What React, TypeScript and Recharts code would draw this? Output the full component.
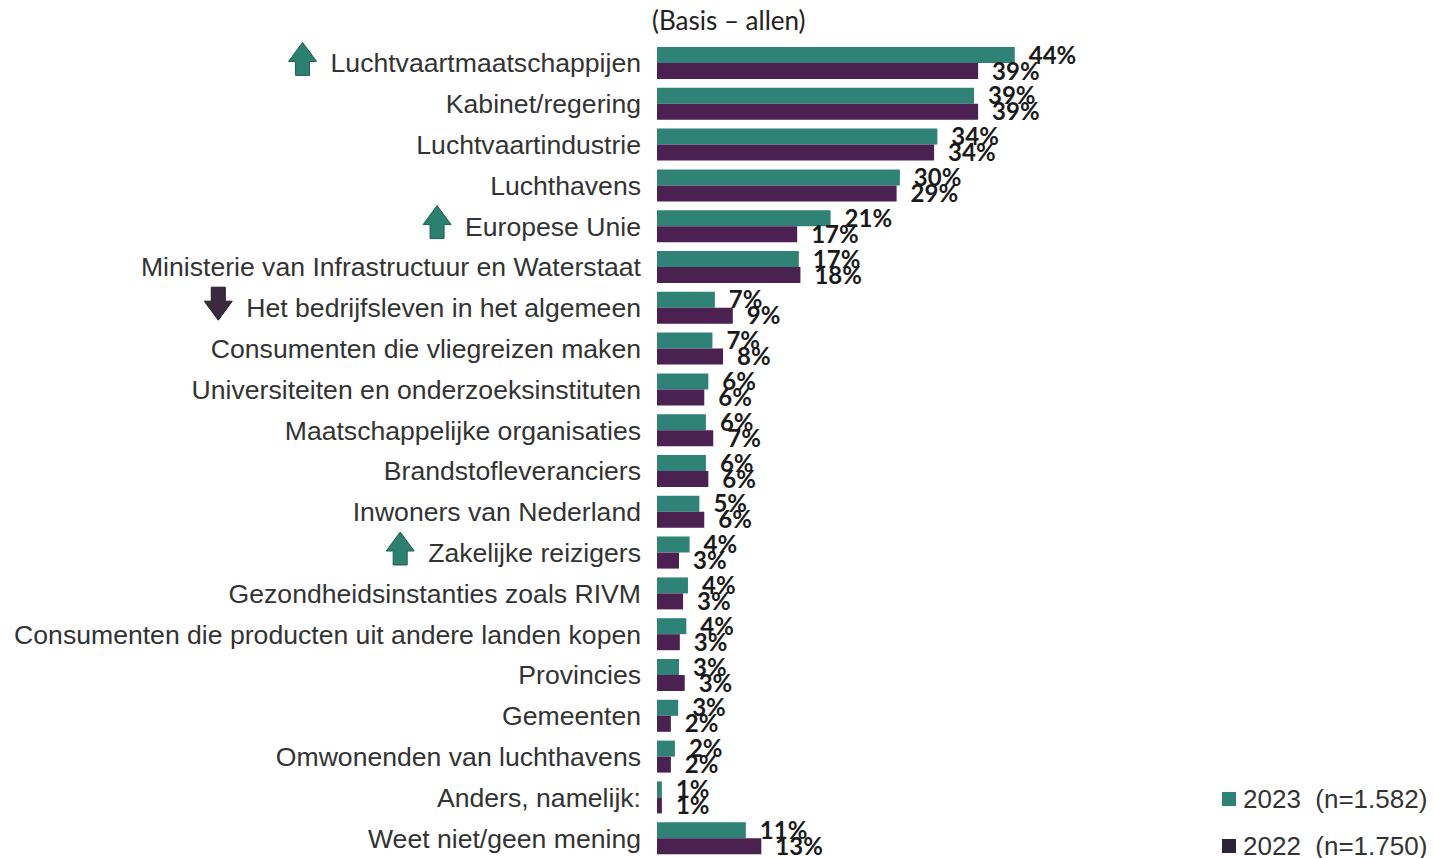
import React from 'react';
import { BarChart, Bar, XAxis, YAxis, LabelList } from 'recharts';

// categorieën van boven naar onder
const categories = [
  'Luchtvaartmaatschappijen',
  'Kabinet/regering',
  'Luchtvaartindustrie',
  'Luchthavens',
  'Europese Unie',
  'Ministerie van Infrastructuur en Waterstaat',
  'Het bedrijfsleven in het algemeen',
  'Consumenten die vliegreizen maken',
  'Universiteiten en onderzoeksinstituten',
  'Maatschappelijke organisaties',
  'Brandstofleveranciers',
  'Inwoners van Nederland',
  'Zakelijke reizigers',
  'Gezondheidsinstanties zoals RIVM',
  'Consumenten die producten uit andere landen kopen',
  'Provincies',
  'Gemeenten',
  'Omwonenden van luchthavens',
  'Anders, namelijk:',
  'Weet niet/geen mening',
];

// significante verschuiving t.o.v. 2022
const trends = ['up', '', '', '', 'up', '', 'down', '', '', '', '', '', 'up', '', '', '', '', '', '', ''];

const values2023 = [43.9, 38.9, 34.4, 29.8, 21.3, 17.4, 7.1, 6.8, 6.3, 6.0, 6.0, 5.2, 4.0, 3.8, 3.6, 2.7, 2.6, 2.2, 0.6, 10.9];
const values2022 = [39.4, 39.4, 34.0, 29.4, 17.2, 17.6, 9.3, 8.1, 5.8, 6.9, 6.3, 5.8, 2.7, 3.2, 2.8, 3.4, 1.7, 1.7, 0.6, 12.8];

const seriesNames = ['2023', '2022'];
const seriesN = ['1.582', '1.750'];

const TEAL = '#2e8276';
const PURPLE = '#4a2150';
const LABEL_FONT = "'Liberation Sans', Arial, sans-serif";
const LABEL_SIZE = 26.6;

const data = categories.map((name, i) => ({
  name,
  v2023: values2023[i],
  v2022: values2022[i],
}));

const fmtPct = (v: number) => `${Math.round(v)}%`;

let measureCtx: CanvasRenderingContext2D | null = null;
const textWidth = (s: string) => {
  if (!measureCtx) measureCtx = document.createElement('canvas').getContext('2d');
  if (!measureCtx) return s.length * 13;
  measureCtx.font = `${LABEL_SIZE}px ${LABEL_FONT}`;
  return measureCtx.measureText(s).width;
};

const CategoryTick = (props: any) => {
  const { x, y, payload } = props;
  const label = payload.value as string;
  const trend = trends[categories.indexOf(label)];
  let arrow = null;
  if (trend) {
    const right = x - textWidth(label) - 14;
    const cx = right - 14;
    const top = y - 21;
    const pts =
      trend === 'up'
        ? [[cx, top], [cx + 14, top + 19], [cx + 7, top + 19], [cx + 7, top + 33], [cx - 7, top + 33], [cx - 7, top + 19], [cx - 14, top + 19]]
        : [[cx, top + 33], [cx + 14, top + 14], [cx + 7, top + 14], [cx + 7, top], [cx - 7, top], [cx - 7, top + 14], [cx - 14, top + 14]];
    arrow = (
      <polygon
        points={pts.map((p) => p.join(',')).join(' ')}
        fill={trend === 'up' ? '#2c8070' : '#3a2a40'}
        stroke={trend === 'up' ? '#1e5c50' : '#251a2a'}
        strokeWidth={1}
      />
    );
  }
  return (
    <g>
      {arrow}
      <text x={x} y={y} textAnchor="end" dominantBaseline="central" fontSize={LABEL_SIZE} fontFamily={LABEL_FONT} fill="#333">
        {label}
      </text>
    </g>
  );
};

export default function App() {
  return (
    <div style={{ position: 'fixed', left: 0, top: 0, width: 1434, height: 858, overflow: 'hidden', background: '#fff' }}>
      <div
        style={{
          position: 'absolute',
          left: 652,
          top: 5,
          fontFamily: 'Lato, sans-serif',
          fontSize: 26,
          lineHeight: '30px',
          color: '#222',
        }}
      >
        (Basis – allen)
      </div>

      <BarChart
        width={1434}
        height={860}
        data={data}
        layout="vertical"
        margin={{ top: 43, right: 288, bottom: 1, left: 0 }}
        barCategoryGap={4}
        barGap={0}
      >
        <XAxis type="number" domain={[0, 60]} hide />
        <YAxis
          type="category"
          dataKey="name"
          width={657}
          axisLine={false}
          tickLine={false}
          tickSize={0}
          tickMargin={16}
          interval={0}
          tick={<CategoryTick />}
        />
        <Bar dataKey="v2023" name="2023" fill={TEAL} isAnimationActive={false}>
          <LabelList
            dataKey="v2023"
            position="right"
            offset={14}
            formatter={fmtPct}
            fill="#1a1a1a"
            fontSize={24}
            fontWeight={700}
            fontFamily="Lato, sans-serif"
          />
        </Bar>
        <Bar dataKey="v2022" name="2022" fill={PURPLE} isAnimationActive={false}>
          <LabelList
            dataKey="v2022"
            position="right"
            offset={14}
            formatter={fmtPct}
            fill="#1a1a1a"
            fontSize={24}
            fontWeight={700}
            fontFamily="Lato, sans-serif"
          />
        </Bar>
      </BarChart>

      {/* legenda rechtsonder */}
      {seriesNames.map((s, i) => (
        <div
          key={s}
          style={{
            position: 'absolute',
            left: 1222,
            top: 784 + i * 47,
            display: 'flex',
            alignItems: 'center',
            height: 30,
            fontFamily: LABEL_FONT,
            fontSize: 26,
            color: '#333',
            whiteSpace: 'pre',
          }}
        >
          <span style={{ width: 14, height: 14, background: i === 0 ? TEAL : '#2c2436', marginRight: 7 }} />
          {`${s}  (n=${seriesN[i]})`}
        </div>
      ))}
    </div>
  );
}
